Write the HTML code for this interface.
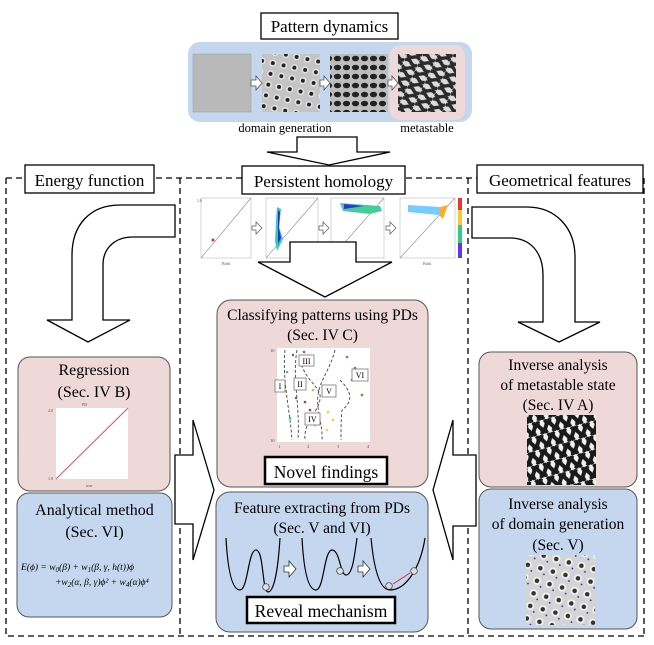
<!DOCTYPE html>
<html><head><meta charset="utf-8"><style>html,body{margin:0;padding:0;background:#fff}svg{display:block}</style></head><body>
<svg width="654" height="645" viewBox="0 0 654 645" xmlns="http://www.w3.org/2000/svg" style="font-family:'Liberation Serif',serif">
<defs>
<pattern id="spots" width="11" height="11" patternUnits="userSpaceOnUse" patternTransform="rotate(12)"><rect width="11" height="11" fill="#c4c4c4"/><circle cx="5" cy="5" r="3.5" fill="#e6e6e6"/><circle cx="5" cy="5" r="2" fill="#222"/></pattern>
<pattern id="hex" width="9" height="9" patternUnits="userSpaceOnUse"><rect width="9" height="9" fill="#bdbdbd"/><ellipse cx="4.5" cy="4.5" rx="3.6" ry="2.8" fill="#222"/></pattern>
<pattern id="lab" width="14" height="12" patternUnits="userSpaceOnUse" patternTransform="rotate(25)"><rect width="14" height="12" fill="#dcdcdc"/><path d="M0 3 Q3.5 0 7 3 T14 3 M0 9 Q3.5 12 7 9 T14 9" stroke="#2a2a2a" stroke-width="3.4" fill="none"/></pattern>
<pattern id="lab2" width="12" height="14" patternUnits="userSpaceOnUse" patternTransform="rotate(-15)"><rect width="12" height="14" fill="#f2f2f2"/><path d="M3 0 Q0 3.5 3 7 T3 14 M9 0 Q12 3.5 9 7 T9 14" stroke="#1a1a1a" stroke-width="4" fill="none"/></pattern>
<pattern id="dg" width="13" height="13" patternUnits="userSpaceOnUse" patternTransform="rotate(15)"><rect width="13" height="13" fill="#d4d4d4"/><circle cx="6" cy="6" r="4" fill="#f4f4f4"/><circle cx="6" cy="6" r="2.3" fill="#333"/><circle cx="11" cy="11" r="0.9" fill="#22c"/></pattern>
</defs>

<rect x="261" y="13" width="137" height="26" fill="#fff" stroke="#000" stroke-width="1.3"/>
<text x="329.5" y="32" font-size="17" text-anchor="middle">Pattern dynamics</text>
<rect x="188" y="42" width="284" height="80" rx="12" fill="#c5d7ee"/>
<rect x="390" y="45" width="75" height="75" rx="10" fill="#efd8d8"/>
<rect x="193" y="54" width="58" height="58" fill="#b9b9b9" stroke="#999" stroke-width="0.5"/>
<rect x="262" y="54" width="58" height="58" fill="url(#spots)"/>
<rect x="330" y="54" width="58" height="58" fill="url(#hex)"/>
<rect x="398" y="54" width="58" height="58" fill="url(#lab)"/>
<g fill="#fff" stroke="#555" stroke-width="0.8">
<path d="M251 80h5v-4l6 7-6 7v-4h-5z"/><path d="M320 80h4v-4l6 7-6 7v-4h-4z"/><path d="M388 80h4v-4l6 7-6 7v-4h-4z"/></g>
<text x="285" y="132" font-size="12.5" text-anchor="middle">domain generation</text>
<text x="427" y="132" font-size="12.5" text-anchor="middle">metastable</text>
<path d="M297 137H357V152H390L329 165L267 152H297Z" fill="#fff" stroke="#000" stroke-width="1.3"/>

<g fill="none" stroke="#000" stroke-width="1.3" stroke-dasharray="6,4">
<path d="M6 178H644"/><path d="M6 178V636H644"/><path d="M180 178V636"/><path d="M468 178V636"/><path d="M644 178V636"/></g>
<rect x="25" y="165" width="129" height="28" fill="#fff" stroke="#000" stroke-width="1.3"/>
<text x="89.5" y="186" font-size="17" text-anchor="middle">Energy function</text>
<rect x="242" y="166" width="163" height="28" fill="#fff" stroke="#000" stroke-width="1.3"/>
<text x="323.5" y="187" font-size="17" text-anchor="middle">Persistent homology</text>
<rect x="477" y="165" width="166" height="28" fill="#fff" stroke="#000" stroke-width="1.3"/>
<text x="560" y="186" font-size="17" text-anchor="middle">Geometrical features</text>

<g stroke="#bbb" stroke-width="0.6" fill="#fff">
<rect x="201" y="198" width="50" height="60"/><rect x="266" y="198" width="52" height="60"/><rect x="331" y="198" width="53" height="60"/><rect x="400" y="198" width="55" height="60"/></g>
<g stroke="#888" stroke-width="0.6"><path d="M201 258L251 198M266 258L318 198M331 258L384 198M400 258L455 198"/></g>
<circle cx="213" cy="240" r="1.5" fill="#d33"/>
<path d="M277 207l4 2-2 18 4 12-6 12-2-10 1-20z" fill="#3cb"/><path d="M278 210l2 2-1 16 2 10-3 6z" fill="#23c"/>
<path d="M340 203l40 3 2 5-12 3-27-3z" fill="#4c9"/><path d="M344 204l20 2-20 3z" fill="#33d"/>
<path d="M408 205l32 2 4 5-6 3-30-3z" fill="#7cf"/><path d="M440 207l8-2-5 14-4-4z" fill="#fa3"/>
<rect x="458" y="198" width="4" height="60" fill="#7af"/><rect x="458" y="198" width="4" height="12" fill="#e33"/><rect x="458" y="210" width="4" height="15" fill="#ec3"/><rect x="458" y="225" width="4" height="18" fill="#3c8"/><rect x="458" y="243" width="4" height="15" fill="#63e"/>
<g font-size="4" fill="#555"><text x="197" y="202">1.0</text><text x="222" y="265">Birth</text><text x="286" y="265">Birth</text><text x="352" y="265">Birth</text><text x="423" y="265">Birth</text></g>
<g fill="#fff" stroke="#555" stroke-width="0.7"><path d="M252 226h4v-4l6 6-6 6v-4h-4z"/><path d="M319 226h4v-4l6 6-6 6v-4h-4z"/><path d="M386 226h4v-4l6 6-6 6v-4h-4z"/></g>
<path d="M290 242H356V262H392L325 297L258 262H290Z" fill="#fff" stroke="#000" stroke-width="1.3"/>

<path d="M175 205H120C90 205 72 225 72 255V320H47L88 342L130 320H103V265C103 248 115 237 133 237H175Z" fill="#fff" stroke="#000" stroke-width="1.3"/>
<path d="M472 207H527C555 207 575 227 575 257V322H600L559 342L518 322H543V275C543 252 530 238 510 238H472Z" fill="#fff" stroke="#000" stroke-width="1.3"/>

<rect x="18" y="357" width="152" height="134" rx="12" fill="#efd8d8" stroke="#555" stroke-width="1"/>
<text x="94" y="375" font-size="16" text-anchor="middle">Regression</text>
<text x="94" y="397" font-size="16" text-anchor="middle">(Sec. IV B)</text>
<rect x="56" y="408" width="72" height="71" fill="#fff"/>
<path d="M56 479L128 408" stroke="#d55" stroke-width="1"/>
<g font-size="4" fill="#555"><text x="82" y="406">PD</text><text x="48" y="412">4.0</text><text x="48" y="480">1.0</text><text x="86" y="487">true</text></g>
<rect x="17" y="493" width="155" height="124" rx="12" fill="#c5d7ee" stroke="#555" stroke-width="1"/>
<text x="94.5" y="515" font-size="16" text-anchor="middle">Analytical method</text>
<text x="94.5" y="537" font-size="16" text-anchor="middle">(Sec. VI)</text>
<text x="21" y="570" font-size="9.5" font-style="italic">E(ϕ) = w<tspan font-size="7" dy="2">0</tspan><tspan dy="-2">(β) + w</tspan><tspan font-size="7" dy="2">1</tspan><tspan dy="-2">(β, γ, h(t))ϕ</tspan></text>
<text x="55" y="585" font-size="9.5" font-style="italic">+w<tspan font-size="7" dy="2">2</tspan><tspan dy="-2">(α, β, γ)ϕ² + w</tspan><tspan font-size="7" dy="2">4</tspan><tspan dy="-2">(α)ϕ⁴</tspan></text>

<path d="M175 455H193V420L214 490L193 560V524H175Z" fill="#fff" stroke="#000" stroke-width="1.3"/>
<path d="M476 455H453V420L433 490L453 560V526H476Z" fill="#fff" stroke="#000" stroke-width="1.3"/>

<rect x="217" y="300" width="211" height="187" rx="14" fill="#efd8d8" stroke="#555" stroke-width="1"/>
<text x="322.5" y="320" font-size="15.5" text-anchor="middle">Classifying patterns using PDs</text>
<text x="322.5" y="340" font-size="15.5" text-anchor="middle">(Sec. IV C)</text>
<rect x="277" y="348" width="93" height="94" fill="#fff"/>
<g fill="none" stroke="#444" stroke-width="0.9" stroke-dasharray="3,2">
<path d="M285 350C282 380 290 410 292 440"/><path d="M297 350C292 380 300 400 298 440"/><path d="M300 360C305 380 318 385 320 395C322 410 303 420 305 440"/><path d="M335 350C330 370 320 380 318 395C316 410 323 425 322 440"/><path d="M340 380C350 390 355 400 342 410C341 420 341 430 341 440"/></g>
<g fill="#36c"><circle cx="293" cy="355" r="1.2"/><circle cx="298" cy="385" r="1.2"/><circle cx="296" cy="398" r="1.2"/></g>
<g fill="#e33"><circle cx="304" cy="352" r="1.2"/><circle cx="306" cy="365" r="1.2"/></g>
<g fill="#dd2"><circle cx="328" cy="412" r="1.3"/><circle cx="333" cy="420" r="1.3"/><circle cx="335" cy="395" r="1.3"/><circle cx="327" cy="430" r="1.3"/></g>
<g fill="#3a3"><circle cx="347" cy="357" r="1.3"/><circle cx="355" cy="368" r="1.3"/><circle cx="362" cy="395" r="1.3"/><circle cx="352" cy="380" r="1.3"/><circle cx="365" cy="378" r="1.3"/></g>
<g fill="#939"><circle cx="305" cy="402" r="1.3"/><circle cx="310" cy="410" r="1.3"/></g>
<g fill="#fa4"><circle cx="313" cy="390" r="1.3"/><circle cx="315" cy="425" r="1.3"/></g>
<g fill="#3bb"><circle cx="287" cy="372" r="1.3"/><circle cx="290" cy="418" r="1.3"/></g>
<g fill="#fff" stroke="#777" stroke-width="0.8">
<rect x="299" y="355" width="15" height="11"/><rect x="275" y="380" width="10" height="12"/><rect x="294" y="378" width="12" height="12"/><rect x="322" y="385" width="14" height="12"/><rect x="352" y="369" width="16" height="12"/><rect x="305" y="413" width="15" height="12"/></g>
<g font-size="8" text-anchor="middle"><text x="306.5" y="364">III</text><text x="280" y="389">I</text><text x="300" y="387">II</text><text x="329" y="394">V</text><text x="360" y="378">VI</text><text x="312.5" y="422">IV</text></g>
<g font-size="4.5" fill="#555"><text x="270" y="352">10</text><text x="270" y="442">10</text><text x="278" y="448">1</text><text x="307" y="448">2</text><text x="337" y="448">3</text><text x="367" y="448">4</text></g>
<rect x="265" y="457" width="122" height="27" fill="#fff" stroke="#000" stroke-width="2.5"/>
<text x="326" y="478" font-size="17.5" text-anchor="middle">Novel findings</text>

<rect x="216" y="492" width="212" height="140" rx="14" fill="#c5d7ee" stroke="#555" stroke-width="1"/>
<text x="322" y="513" font-size="15.5" text-anchor="middle">Feature extracting from PDs</text>
<text x="322" y="533" font-size="15.5" text-anchor="middle">(Sec. V and VI)</text>
<g fill="none" stroke="#000" stroke-width="1.2">
<path d="M226 538C228 575 233 590 240 590C248 590 248 550 256 550C264 550 262 592 268 592C274 592 278 570 280 538"/>
<path d="M302 538C304 575 309 590 316 590C324 590 324 550 332 550C340 550 340 575 346 575C352 575 354 560 357 538"/>
<path d="M371 538C374 570 380 590 390 590C405 590 420 570 425 538"/></g>
<g fill="#ddd" stroke="#333" stroke-width="0.7"><circle cx="266" cy="587" r="3.3"/><circle cx="340" cy="571" r="3.3"/><circle cx="389" cy="586" r="3.3"/><circle cx="414" cy="571" r="3.3"/></g>
<path d="M393 584L410 573" stroke="#e22" stroke-width="1"/>
<g fill="#fff" stroke="#333" stroke-width="0.8"><path d="M284 566h5v-5l7 8-7 8v-5h-5z"/><path d="M358 566h5v-5l7 8-7 8v-5h-5z"/></g>
<rect x="247" y="597" width="148" height="26" fill="#fff" stroke="#000" stroke-width="2.5"/>
<text x="321" y="617" font-size="17.5" text-anchor="middle">Reveal mechanism</text>

<rect x="479" y="352" width="158" height="135" rx="12" fill="#efd8d8" stroke="#555" stroke-width="1"/>
<text x="558" y="370" font-size="15.5" text-anchor="middle">Inverse analysis</text>
<text x="558" y="390" font-size="15.5" text-anchor="middle">of metastable state</text>
<text x="558" y="410" font-size="15.5" text-anchor="middle">(Sec. IV A)</text>
<rect x="527" y="415" width="69" height="70" fill="url(#lab2)"/>
<rect x="479" y="489" width="158" height="140" rx="12" fill="#c5d7ee" stroke="#555" stroke-width="1"/>
<text x="558" y="509" font-size="15.5" text-anchor="middle">Inverse analysis</text>
<text x="558" y="529" font-size="15.5" text-anchor="middle">of domain generation</text>
<text x="558" y="550" font-size="15.5" text-anchor="middle">(Sec. V)</text>
<rect x="526" y="555" width="69" height="70" fill="url(#dg)"/>
</svg>
</body></html>
